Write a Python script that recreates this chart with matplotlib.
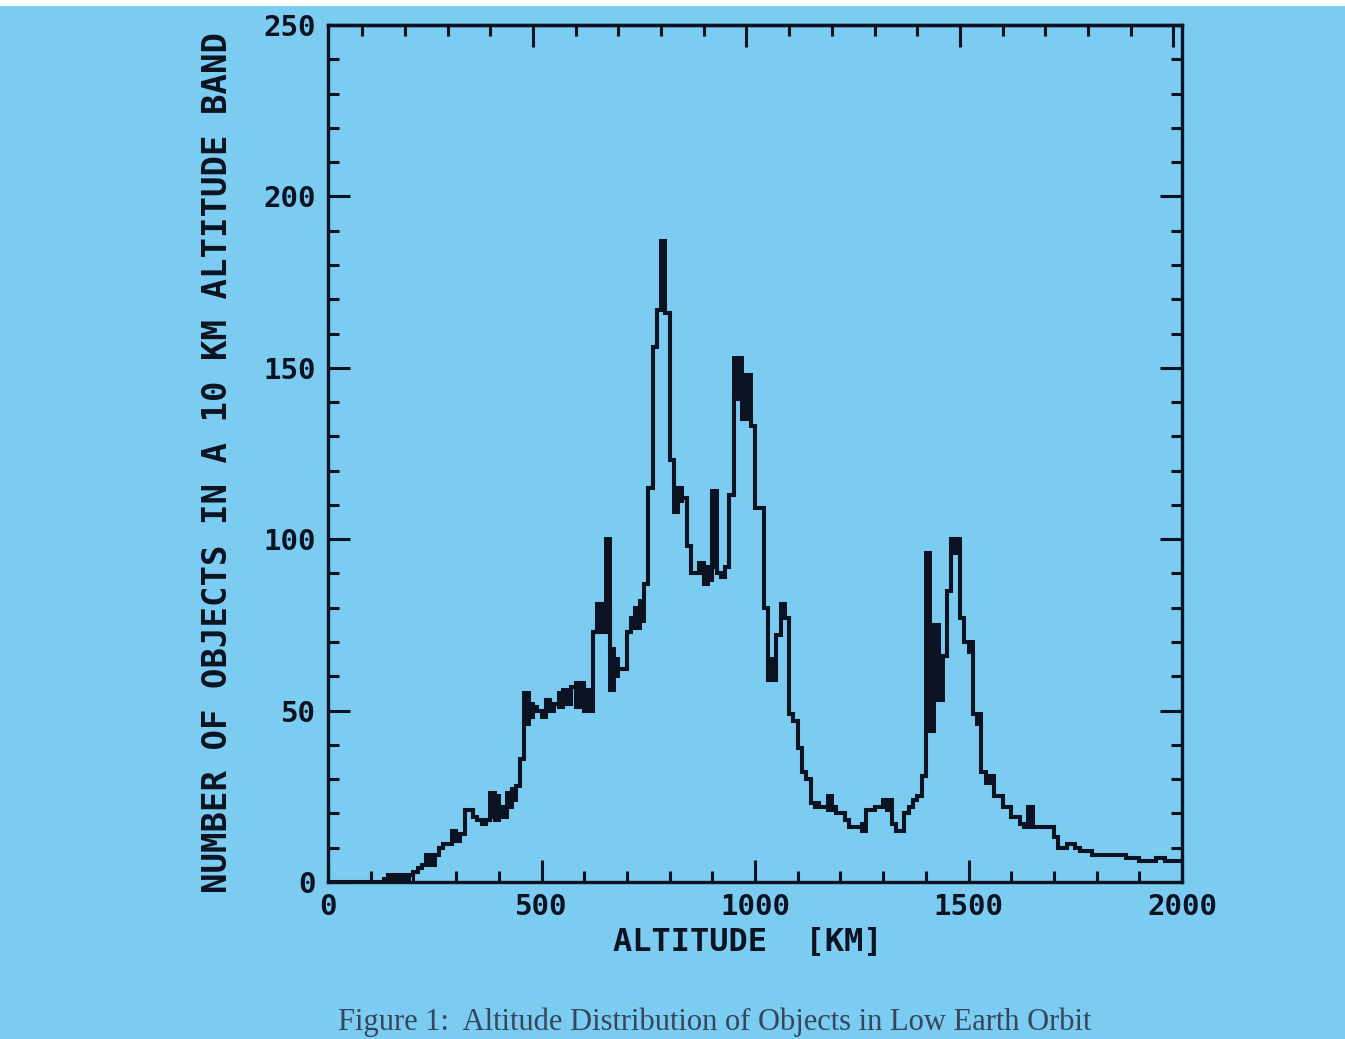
import numpy as np
import matplotlib
matplotlib.use('Agg')
import matplotlib.pyplot as plt
from matplotlib.patches import Rectangle
from matplotlib.ticker import MultipleLocator, NullFormatter

# objetos por faixa de 10 km, 0-2000 km (uma linha = 100 km)
counts = [
    0, 0, 0, 0, 0, 0, 0, 0, 0, 0,
    0, 0, 0, 1, 1, 1, 1, 1, 1, 2,
    3, 4, 5, 6, 8, 8, 10, 11, 11, 12,
    14, 14, 21, 21, 19, 18, 17, 18, 19, 18,
    20, 22, 22, 24, 28, 36, 55, 52, 51, 50,
    50, 53, 50, 52, 55, 56, 52, 57, 58, 58,
    55, 56, 73, 75, 81, 81, 68, 65, 62, 62,
    73, 77, 80, 82, 87, 115, 156, 167, 167, 166,
    123, 115, 111, 112, 98, 90, 90, 90, 89, 92,
    92, 90, 89, 92, 113, 141, 141, 135, 135, 133,
    109, 109, 80, 65, 65, 72, 81, 77, 49, 47,
    39, 32, 30, 23, 22, 22, 22, 25, 22, 20,
    20, 18, 16, 16, 16, 15, 21, 21, 22, 22,
    24, 24, 17, 15, 15, 20, 22, 24, 25, 31,
    44, 44, 53, 53, 66, 85, 96, 100, 77, 70,
    70, 49, 49, 32, 31, 31, 25, 25, 22, 22,
    19, 19, 17, 16, 16, 16, 16, 16, 16, 16,
    13, 10, 10, 11, 11, 10, 9, 9, 9, 8,
    8, 8, 8, 8, 8, 8, 8, 7, 7, 7,
    6, 6, 6, 6, 7, 7, 6, 6, 6, 6,
]

# segunda curva sobreposta (so as faixas onde difere da primeira)
alt_km = [140, 150, 160, 170, 230, 240, 290, 300, 380, 390, 410, 420, 430,
          460, 470, 500, 540, 550, 580, 590, 600, 610, 630, 640, 650, 660,
          670, 720, 730, 780, 810, 820, 870, 880, 890, 900, 950, 960, 970,
          980, 1030, 1040, 1060, 1140, 1170, 1250, 1310, 1400, 1410, 1420,
          1430, 1460, 1470, 1500, 1520, 1540, 1550, 1640]
alt_vals = [2, 2, 2, 2, 8, 5, 15, 12, 26, 25, 19, 26, 27,
            46, 48, 48, 51, 52, 51, 52, 50, 50, 81, 73, 100, 56,
            60, 74, 76, 187, 108, 115, 93, 87, 88, 114, 153, 153, 148,
            148, 59, 59, 77, 23, 21, 17, 21, 96, 75, 75,
            66, 100, 96, 67, 46, 29, 29, 22]

edges = np.arange(0, 2001, 10)
counts_alt = list(counts)
for km, v in zip(alt_km, alt_vals):
    counts_alt[km // 10] = v

BG = '#7ccbf1'
INK = '#0b1322'
MONO = ['DejaVu Sans Mono']

fig = plt.figure(figsize=(13.45, 10.39), dpi=100, facecolor=BG)
ax = fig.add_axes([328 / 1345, 157 / 1039, 854 / 1345, 857 / 1039])
ax.set_facecolor(BG)

# onde as duas curvas do plotter se separam a tinta fica cheia
lo = np.minimum(counts, counts_alt)
hi = np.maximum(counts, counts_alt)
ax.fill_between(edges, np.append(lo, lo[-1]), np.append(hi, hi[-1]),
                step='post', color=INK, lw=0)
for c in (counts, counts_alt):
    ax.stairs(c, edges, color=INK, lw=2.9, baseline=None)

ax.set_xlim(0, 2000)
ax.set_ylim(0, 250)
ax.xaxis.set_major_locator(MultipleLocator(500))
ax.xaxis.set_minor_locator(MultipleLocator(100))
ax.yaxis.set_major_locator(MultipleLocator(50))
ax.yaxis.set_minor_locator(MultipleLocator(10))
ax.tick_params(which='both', direction='in', top=False, right=True,
               color=INK, width=2.2, labelsize=21, labelcolor=INK)
ax.tick_params(which='major', length=16)
ax.tick_params(which='minor', length=8)
ax.tick_params(axis='x', pad=8)
ax.tick_params(axis='y', pad=9)
for t in ax.get_xticklabels() + ax.get_yticklabels():
    t.set_family(MONO)
    t.set_fontweight('bold')
for s in ax.spines.values():
    s.set_color(INK)
    s.set_linewidth(2.4)

# escala de cima do plotter vem deslocada ~20 km
top = ax.secondary_xaxis('top', functions=(lambda x: x + 20, lambda x: x - 20))
top.xaxis.set_major_locator(MultipleLocator(500))
top.xaxis.set_minor_locator(MultipleLocator(100))
top.xaxis.set_major_formatter(NullFormatter())
top.tick_params(which='both', direction='in', color=INK, width=2.2)
top.tick_params(which='major', length=16)
top.tick_params(which='minor', length=8)
top.spines['top'].set_color(INK)
top.spines['top'].set_linewidth(2.4)

ax.set_xlabel('ALTITUDE  [KM]', fontsize=23, color=INK, family=MONO, fontweight='bold')
ax.set_ylabel('NUMBER OF OBJECTS IN A 10 KM ALTITUDE BAND', fontsize=24.5, color=INK,
              family=MONO, fontweight='bold')
ax.xaxis.set_label_coords(0.492, -0.051)
ax.yaxis.set_label_coords(-0.11, 0.49)

fig.text(715 / 1345, 1 - 1022 / 1039, 'Figure 1:  Altitude Distribution of Objects in Low Earth Orbit',
         family='Liberation Serif', fontsize=22, color='#33465c',
         ha='center', va='center')
fig.add_artist(Rectangle((0, 1 - 6 / 1039), 1, 6 / 1039, transform=fig.transFigure,
                         color='white', lw=0))

fig.savefig('out.png', dpi=100, facecolor=BG)
